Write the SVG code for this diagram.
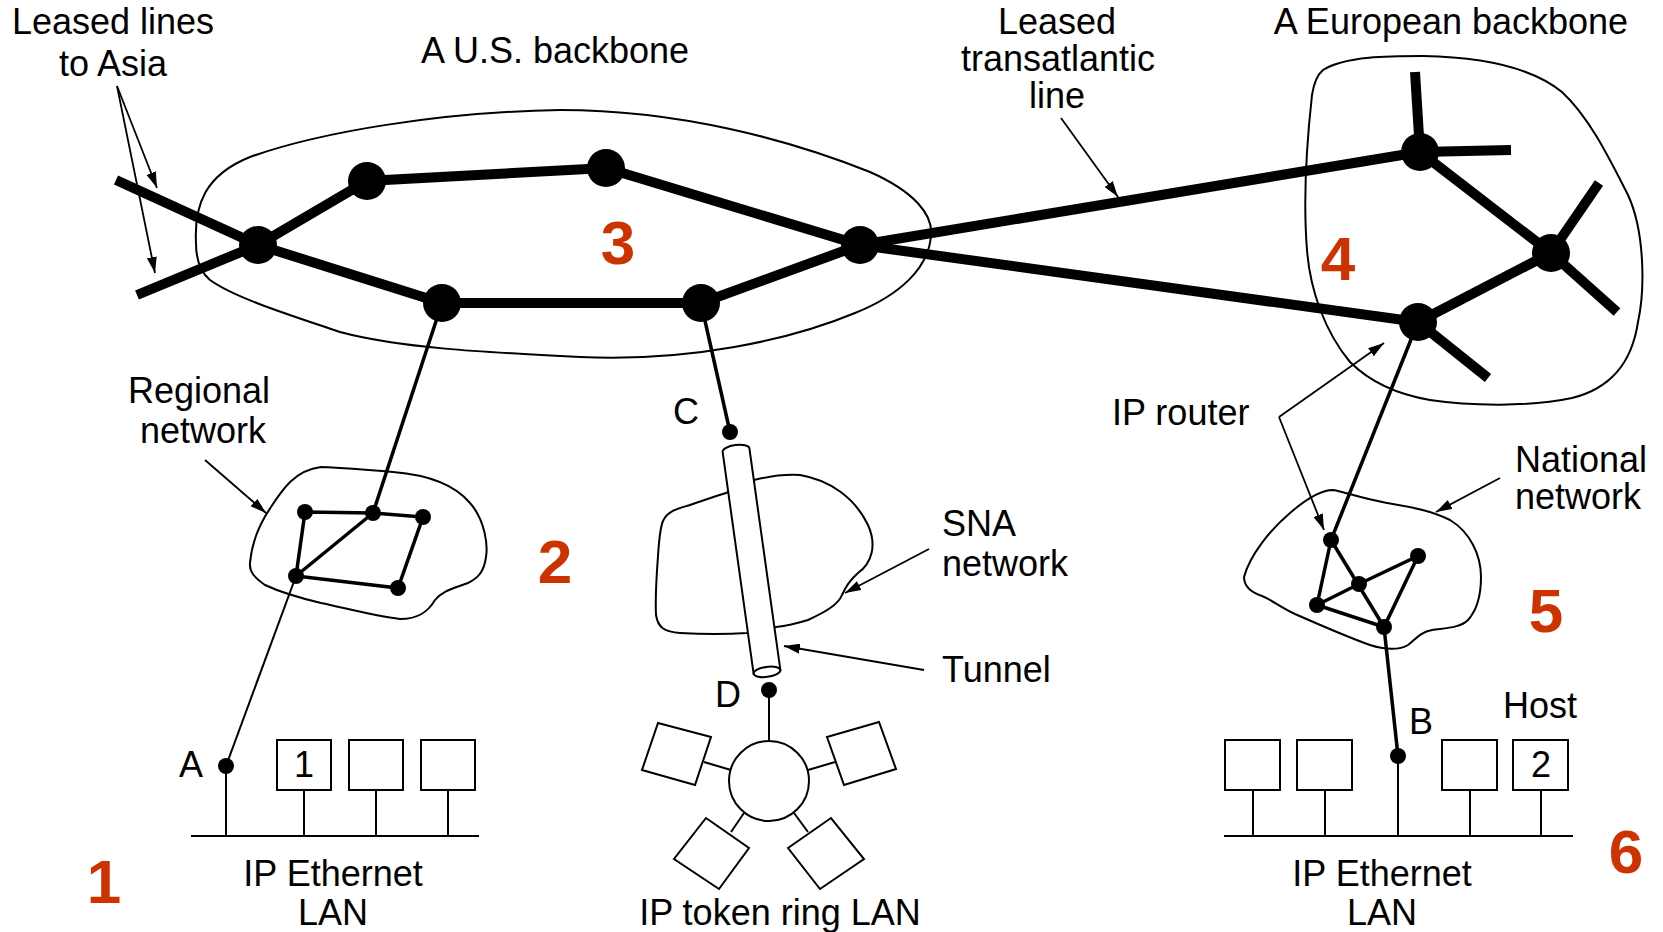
<svg xmlns="http://www.w3.org/2000/svg" width="1663" height="932" viewBox="0 0 1663 932">
<defs>
<marker id="ah" viewBox="0 0 16 10" refX="16" refY="5" markerWidth="16" markerHeight="10" markerUnits="userSpaceOnUse" orient="auto"><path d="M0,0 L16,5 L0,10 Z" fill="#000"/></marker>
<style>
.lbl{font-family:"Liberation Sans",Arial,sans-serif;font-size:36px;fill:#000}
.mid{text-anchor:middle}
.num{font-family:"Liberation Sans",Arial,sans-serif;font-size:62px;font-weight:bold;fill:#CC3300;text-anchor:middle}
.blob{fill:none;stroke:#000;stroke-width:2}
.bb{stroke:#000;stroke-width:10;fill:none}
.thin{stroke:#000;stroke-width:2;fill:none}
.med{stroke:#000;stroke-width:3.5;fill:none}
.ptr{stroke:#000;stroke-width:1.8;fill:none;marker-end:url(#ah)}
.box{fill:#fff;stroke:#000;stroke-width:2}
</style>
</defs>
<rect width="1663" height="932" fill="#fff"/>

<g id="us-backbone-area">
<path class="blob" d="M196,243 C194,205 205,175 250,157 C320,132 440,112 560,110 C680,110 790,140 870,172 C915,192 933,215 931,235 C929,268 900,295 855,313 C790,340 690,362 580,357 C480,352 400,348 340,332 C290,315 235,298 210,280 C198,270 196,255 196,243 Z"/>
</g>
<g id="european-backbone-area">
<path class="blob" d="M1323,70 C1345,56 1390,56 1423,56 C1480,57 1530,66 1562,92 C1590,118 1610,160 1628,195 C1645,232 1645,290 1638,322 C1632,362 1612,388 1572,398 C1530,407 1470,406 1430,400 C1395,394 1370,382 1350,362 C1325,332 1310,290 1307,250 C1303,200 1307,140 1312,95 C1314,82 1317,75 1323,70 Z"/>
</g>
<g id="regional-network-area">
<path class="blob" d="M250,563 C252,540 262,520 271,507 C282,490 295,470 321,467 C345,468 370,470 393,472 C430,475 455,485 470,503 C485,520 488,545 486,557 C484,572 478,578 468,583 C455,588 443,590 435,600 C428,612 418,619 400,619 C375,616 345,608 321,603 C300,598 280,592 265,585 C255,578 249,572 250,563 Z"/>
</g>
<g id="sna-network-area">
<path class="blob" d="M663,521 C668,510 680,508 690,505 C705,500 715,496 726,493 L754,480 C770,476 785,474 800,475 C830,480 855,498 868,525 C877,545 872,563 858,573 C850,580 845,588 842,595 C838,605 825,612 808,620 C795,624 785,626 776,627 L747,633 C730,634 700,634 680,633 C665,632 658,628 656,615 C655,595 657,570 658,556 C659,540 660,528 663,521 Z"/>
</g>
<g id="national-network-area">
<path class="blob" d="M1244,577 C1250,555 1270,530 1290,513 C1305,500 1320,490 1333,490 C1345,492 1360,498 1387,503 C1410,507 1430,510 1450,520 C1470,532 1481,555 1481,577 C1481,595 1477,610 1468,620 C1460,628 1445,628 1432,630 C1420,632 1415,640 1408,645 C1400,650 1385,650 1370,645 C1350,638 1320,625 1295,614 C1280,607 1272,600 1262,596 C1250,592 1244,586 1244,577 Z"/>
</g>

<g id="connectors">
<polyline class="bb" points="116,180 258,245 442,303 701,303 860,245 606,168 367,181 258,245 137,295"/>
<line class="bb" x1="860" y1="245" x2="1420" y2="152"/>
<line class="bb" x1="860" y1="245" x2="1418" y2="322"/>
<polyline class="bb" points="1420,152 1551,253 1418,322"/>
<line class="bb" x1="1420" y1="152" x2="1415" y2="72"/>
<line class="bb" x1="1420" y1="152" x2="1511" y2="150"/>
<line class="bb" x1="1551" y1="253" x2="1599" y2="183"/>
<line class="bb" x1="1551" y1="253" x2="1617" y2="312"/>
<line class="bb" x1="1418" y1="322" x2="1488" y2="378"/>
<line class="med" x1="442" y1="303" x2="373" y2="513"/>
<line class="med" x1="701" y1="303" x2="730" y2="432"/>
<line class="med" x1="1418" y1="322" x2="1331" y2="540"/>
<line class="med" x1="1384" y1="627" x2="1398" y2="756"/>
<line class="thin" x1="296" y1="576" x2="226" y2="766"/>
<polyline class="med" points="305,512 373,513 423,517 398,588 296,576 305,512"/>
<line class="med" x1="296" y1="576" x2="373" y2="513"/>
<polyline class="med" points="1331,540 1317,605 1384,627 1418,556 1359,584 1317,605"/>
<line class="med" x1="1331" y1="540" x2="1384" y2="627"/>
<line class="thin" x1="769" y1="690" x2="769" y2="741"/>
<line class="thin" x1="704" y1="762" x2="731" y2="770"/>
<line class="thin" x1="835" y1="762" x2="808" y2="770"/>
<line class="thin" x1="731" y1="832" x2="744" y2="813"/>
<line class="thin" x1="808" y1="832" x2="794" y2="813"/>
<line class="thin" x1="191" y1="836" x2="479" y2="836"/>
<line class="thin" x1="226" y1="766" x2="226" y2="836"/>
<line class="thin" x1="304" y1="790" x2="304" y2="836"/>
<line class="thin" x1="376" y1="790" x2="376" y2="836"/>
<line class="thin" x1="448" y1="790" x2="448" y2="836"/>
<line class="thin" x1="1224" y1="836" x2="1573" y2="836"/>
<line class="thin" x1="1253" y1="790" x2="1253" y2="836"/>
<line class="thin" x1="1325" y1="790" x2="1325" y2="836"/>
<line class="thin" x1="1398" y1="756" x2="1398" y2="836"/>
<line class="thin" x1="1470" y1="790" x2="1470" y2="836"/>
<line class="thin" x1="1541" y1="790" x2="1541" y2="836"/>
<line class="ptr" x1="117" y1="86" x2="157" y2="188"/>
<line class="ptr" x1="117" y1="86" x2="155" y2="273"/>
<line class="ptr" x1="1061" y1="118" x2="1118" y2="197"/>
<line class="ptr" x1="205" y1="460" x2="266" y2="513"/>
<line class="ptr" x1="929" y1="549" x2="845" y2="593"/>
<line class="ptr" x1="924" y1="670" x2="784" y2="646"/>
<line class="ptr" x1="1279" y1="417" x2="1384" y2="343"/>
<line class="ptr" x1="1279" y1="417" x2="1324" y2="530"/>
<line class="ptr" x1="1500" y1="478" x2="1436" y2="512"/>
</g>

<g id="tunnel">
<g transform="translate(736,450) rotate(-7.95)">
<path d="M-13.5,0 A13.5,5 0 0 1 13.5,0 L13.5,224 L-13.5,224 Z" fill="#fff" stroke="#000" stroke-width="2"/>
<ellipse cx="0" cy="224" rx="13.5" ry="5" fill="#fff" stroke="#000" stroke-width="2"/>
</g>
</g>

<g id="us-routers">
<circle cx="258" cy="245" r="19"/>
<circle cx="367" cy="181" r="19"/>
<circle cx="606" cy="168" r="19"/>
<circle cx="860" cy="245" r="19"/>
<circle cx="701" cy="303" r="19"/>
<circle cx="442" cy="303" r="19"/>
</g>
<g id="european-routers">
<circle cx="1420" cy="152" r="19"/>
<circle cx="1551" cy="253" r="19"/>
<circle cx="1418" cy="322" r="19"/>
</g>
<g id="regional-routers">
<circle cx="305" cy="512" r="8"/>
<circle cx="373" cy="513" r="8"/>
<circle cx="423" cy="517" r="8"/>
<circle cx="296" cy="576" r="8"/>
<circle cx="398" cy="588" r="8"/>
</g>
<g id="national-routers">
<circle cx="1331" cy="540" r="8"/>
<circle cx="1418" cy="556" r="8"/>
<circle cx="1359" cy="584" r="8"/>
<circle cx="1317" cy="605" r="8"/>
<circle cx="1384" cy="627" r="8"/>
</g>
<g id="endpoints">
<circle cx="226" cy="766" r="8"/>
<circle cx="730" cy="432" r="8"/>
<circle cx="769" cy="690" r="8"/>
<circle cx="1398" cy="756" r="8"/>
</g>

<g id="token-ring">
<circle cx="769" cy="781" r="40" fill="#fff" stroke="#000" stroke-width="2"/>
<polygon class="box" points="658,723 711,737 695,785 642,770"/>
<polygon class="box" points="827,737 879,722 896,769 844,785"/>
<polygon class="box" points="706,818 749,848 719,889 674,859"/>
<polygon class="box" points="788,848 831,818 864,859 820,889"/>
</g>

<g id="lan-left-hosts">
<rect class="box" x="277" y="740" width="54" height="50"/>
<rect class="box" x="349" y="740" width="54" height="50"/>
<rect class="box" x="421" y="740" width="54" height="50"/>
</g>
<g id="lan-right-hosts">
<rect class="box" x="1225" y="740" width="55" height="50"/>
<rect class="box" x="1297" y="740" width="55" height="50"/>
<rect class="box" x="1442" y="740" width="55" height="50"/>
<rect class="box" x="1513" y="740" width="55" height="50"/>
</g>

<g id="labels">
<text class="lbl mid" x="113" y="34">Leased lines</text>
<text class="lbl mid" x="113" y="76">to Asia</text>
<text class="lbl mid" x="555" y="63">A U.S. backbone</text>
<text class="lbl mid" x="1057" y="34">Leased</text>
<text class="lbl mid" x="1058" y="71">transatlantic</text>
<text class="lbl mid" x="1057" y="108">line</text>
<text class="lbl mid" x="1451" y="34">A European backbone</text>
<text class="lbl mid" x="199" y="403">Regional</text>
<text class="lbl mid" x="203" y="443">network</text>
<text class="lbl mid" x="686" y="424">C</text>
<text class="lbl mid" x="728" y="707">D</text>
<text class="lbl" x="942" y="536">SNA</text>
<text class="lbl" x="942" y="576">network</text>
<text class="lbl" x="942" y="682">Tunnel</text>
<text class="lbl" x="1112" y="425">IP router</text>
<text class="lbl" x="1515" y="472">National</text>
<text class="lbl" x="1515" y="509">network</text>
<text class="lbl" x="1503" y="718">Host</text>
<text class="lbl mid" x="1421" y="734">B</text>
<text class="lbl mid" x="191" y="777">A</text>
<text class="lbl mid" x="304" y="777">1</text>
<text class="lbl mid" x="1541" y="777">2</text>
<text class="lbl mid" x="333" y="886">IP Ethernet</text>
<text class="lbl mid" x="333" y="925">LAN</text>
<text class="lbl mid" x="780" y="925">IP token ring LAN</text>
<text class="lbl mid" x="1382" y="886">IP Ethernet</text>
<text class="lbl mid" x="1382" y="925">LAN</text>
<text class="num" x="618" y="264">3</text>
<text class="num" x="1338" y="280">4</text>
<text class="num" x="555" y="583">2</text>
<text class="num" x="1546" y="632">5</text>
<text class="num" x="1626" y="873">6</text>
<text class="num" x="104" y="903">1</text>
</g>
</svg>
